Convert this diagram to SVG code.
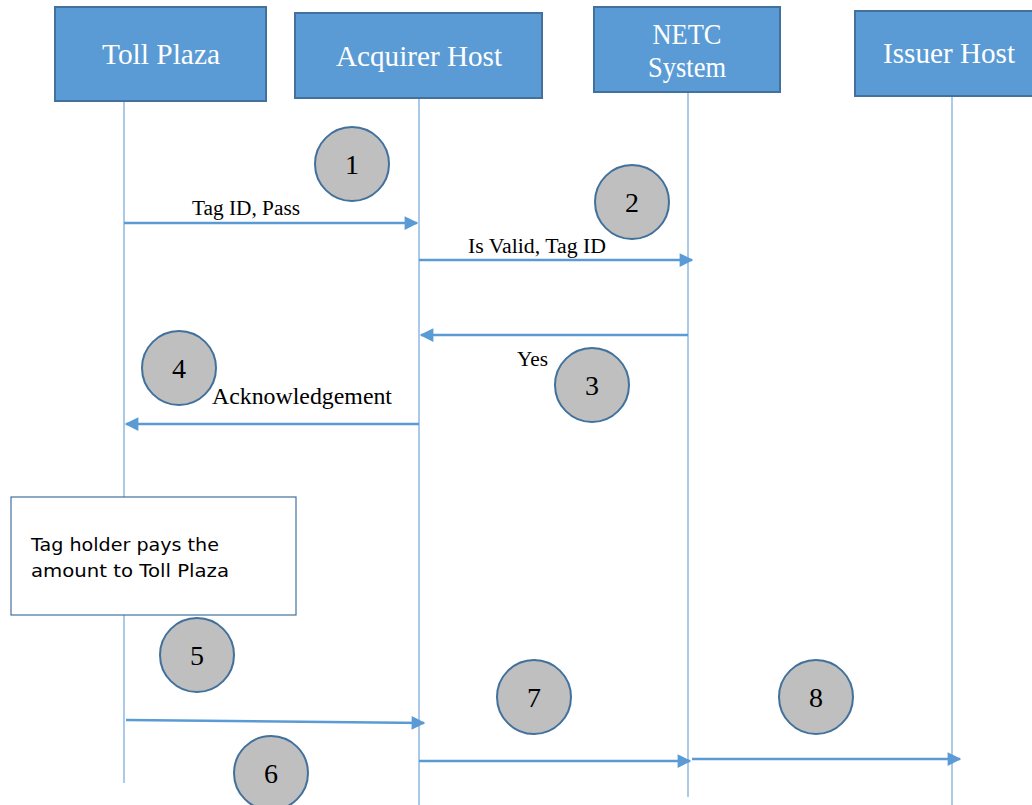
<svg xmlns="http://www.w3.org/2000/svg" width="1032" height="805" viewBox="0 0 1032 805">
  <style>
    .actor rect { fill: #5b9bd5; stroke: #41719c; stroke-width: 2; }
    .actor text { fill: #ffffff; font-family: "Liberation Serif", "Times New Roman", serif; font-size: 29px; text-anchor: middle; }
    .life { stroke: #8fb9e3; stroke-width: 1.5; fill: none; }
    .msg { stroke: #5b9bd5; stroke-width: 2.5; fill: none; marker-end: url(#arrow); }
    .lbl { fill: #000000; font-family: "Liberation Serif", "Times New Roman", serif; }
    .step ellipse { fill: #bfbfbf; stroke: #41719c; stroke-width: 2; }
    .step text { fill: #000000; font-family: "Liberation Serif", "Times New Roman", serif; font-size: 28px; text-anchor: middle; }
    .note rect { fill: #ffffff; stroke: #41719c; stroke-width: 1.2; }
    .note text { fill: #000000; font-family: "DejaVu Sans", "Verdana", sans-serif; font-size: 18.5px; }
  </style>
  <defs>
    <marker id="arrow" viewBox="0 0 10 10" refX="9" refY="5" markerWidth="6" markerHeight="5.5" orient="auto" markerUnits="strokeWidth">
      <path d="M0,0 L10,5 L0,10 Z" fill="#5b9bd5"/>
    </marker>
  </defs>
  <rect width="1032" height="805" fill="#ffffff"/>

  <!-- lifelines -->
  <g id="lifelines">
    <line class="life" x1="124" y1="101" x2="124" y2="783"/>
    <line class="life" x1="419" y1="98" x2="419" y2="805"/>
    <line class="life" x1="688" y1="92" x2="688" y2="797"/>
    <line class="life" x1="952" y1="96" x2="952" y2="805"/>
  </g>

  <!-- participants -->
  <g id="toll-plaza" class="actor">
    <rect x="55" y="7" width="211" height="94"/>
    <text x="161" y="64" textLength="118" lengthAdjust="spacingAndGlyphs">Toll Plaza</text>
  </g>
  <g id="acquirer-host" class="actor">
    <rect x="295" y="13" width="247" height="85"/>
    <text x="419" y="66" textLength="166" lengthAdjust="spacingAndGlyphs">Acquirer Host</text>
  </g>
  <g id="netc-system" class="actor">
    <rect x="594" y="7" width="186" height="85"/>
    <text x="687" y="44" textLength="69" lengthAdjust="spacingAndGlyphs">NETC</text>
    <text x="687" y="77" textLength="78" lengthAdjust="spacingAndGlyphs">System</text>
  </g>
  <g id="issuer-host" class="actor">
    <rect x="855" y="11" width="185" height="85"/>
    <text x="949" y="63" textLength="132" lengthAdjust="spacingAndGlyphs">Issuer Host</text>
  </g>

  <!-- note -->
  <g id="note-payment" class="note">
    <rect x="11" y="497" width="285" height="118"/>
    <text x="31" y="551" textLength="188" lengthAdjust="spacingAndGlyphs">Tag holder pays the</text>
    <text x="31" y="577" textLength="198" lengthAdjust="spacingAndGlyphs">amount to Toll Plaza</text>
  </g>

  <!-- messages -->
  <g id="connectors">
    <line class="msg" x1="124" y1="223" x2="417" y2="223"/>
    <line class="msg" x1="419" y1="260" x2="692" y2="260"/>
    <line class="msg" x1="688" y1="335" x2="421" y2="335"/>
    <line class="msg" x1="419" y1="424" x2="126" y2="424"/>
    <line class="msg" x1="126" y1="720" x2="424" y2="723"/>
    <line class="msg" x1="419" y1="761" x2="690" y2="761"/>
    <line class="msg" x1="692" y1="759" x2="960" y2="759"/>
  </g>

  <!-- message labels -->
  <g id="labels">
    <text class="lbl" x="192" y="215" font-size="20" textLength="108" lengthAdjust="spacingAndGlyphs">Tag ID, Pass</text>
    <text class="lbl" x="468" y="253" font-size="20" textLength="138" lengthAdjust="spacingAndGlyphs">Is Valid, Tag ID</text>
    <text class="lbl" x="517" y="366" font-size="20" textLength="31" lengthAdjust="spacingAndGlyphs">Yes</text>
    <text class="lbl" x="212" y="404" font-size="23" textLength="180" lengthAdjust="spacingAndGlyphs">Acknowledgement</text>
  </g>

  <!-- step markers -->
  <g id="step-1" class="step"><ellipse cx="352" cy="164" rx="37" ry="37"/><text x="352" y="174">1</text></g>
  <g id="step-2" class="step"><ellipse cx="632" cy="202" rx="37" ry="37"/><text x="632" y="212">2</text></g>
  <g id="step-3" class="step"><ellipse cx="592" cy="385" rx="37" ry="37"/><text x="592" y="395">3</text></g>
  <g id="step-4" class="step"><ellipse cx="179" cy="368" rx="37" ry="37"/><text x="179" y="378">4</text></g>
  <g id="step-5" class="step"><ellipse cx="197" cy="655" rx="37" ry="37"/><text x="197" y="665">5</text></g>
  <g id="step-6" class="step"><ellipse cx="271" cy="773" rx="37" ry="37"/><text x="271" y="783">6</text></g>
  <g id="step-7" class="step"><ellipse cx="534" cy="697" rx="37" ry="37"/><text x="534" y="707">7</text></g>
  <g id="step-8" class="step"><ellipse cx="816" cy="697" rx="37" ry="37"/><text x="816" y="707">8</text></g>
</svg>
